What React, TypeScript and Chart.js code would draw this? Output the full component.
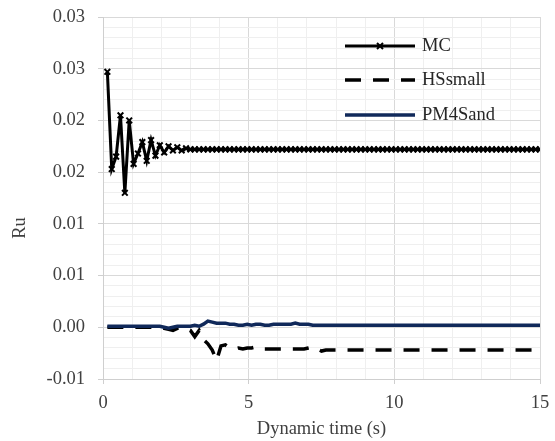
import React, { useEffect, useRef } from 'react';
import { Chart, registerables } from 'chart.js';

Chart.register(...registerables);

// ---- data ----
const times = [
  0.15, 0.3, 0.45, 0.6, 0.75, 0.9, 1.05, 1.2, 1.35, 1.5,
  1.65, 1.8, 1.95, 2.1, 2.25, 2.4, 2.55, 2.7, 2.85, 3.0,
  3.15, 3.3, 3.45, 3.6, 3.75, 3.9, 4.05, 4.2, 4.35, 4.5,
  4.65, 4.8, 4.95, 5.1, 5.25, 5.4, 5.55, 5.7, 5.85, 6.0,
  6.15, 6.3, 6.45, 6.6, 6.75, 6.9, 7.05, 7.2, 7.35, 7.5,
  7.65, 7.8, 7.95, 8.1, 8.25, 8.4, 8.55, 8.7, 8.85, 9.0,
  9.15, 9.3, 9.45, 9.6, 9.75, 9.9, 10.05, 10.2, 10.35, 10.5,
  10.65, 10.8, 10.95, 11.1, 11.25, 11.4, 11.55, 11.7, 11.85, 12.0,
  12.15, 12.3, 12.45, 12.6, 12.75, 12.9, 13.05, 13.2, 13.35, 13.5,
  13.65, 13.8, 13.95, 14.1, 14.25, 14.4, 14.55, 14.7, 14.85, 15.0,
];

const mcValues = [
  0.0247, 0.0153, 0.0165, 0.0205, 0.0130, 0.0200, 0.0158, 0.0168, 0.0179, 0.0161,
  0.0181, 0.0166, 0.0176, 0.0169, 0.0175, 0.0171, 0.0174, 0.0171, 0.0173, 0.0172,
  0.0172, 0.0172, 0.0172, 0.0172, 0.0172, 0.0172, 0.0172, 0.0172, 0.0172, 0.0172,
  0.0172, 0.0172, 0.0172, 0.0172, 0.0172, 0.0172, 0.0172, 0.0172, 0.0172, 0.0172,
  0.0172, 0.0172, 0.0172, 0.0172, 0.0172, 0.0172, 0.0172, 0.0172, 0.0172, 0.0172,
  0.0172, 0.0172, 0.0172, 0.0172, 0.0172, 0.0172, 0.0172, 0.0172, 0.0172, 0.0172,
  0.0172, 0.0172, 0.0172, 0.0172, 0.0172, 0.0172, 0.0172, 0.0172, 0.0172, 0.0172,
  0.0172, 0.0172, 0.0172, 0.0172, 0.0172, 0.0172, 0.0172, 0.0172, 0.0172, 0.0172,
  0.0172, 0.0172, 0.0172, 0.0172, 0.0172, 0.0172, 0.0172, 0.0172, 0.0172, 0.0172,
  0.0172, 0.0172, 0.0172, 0.0172, 0.0172, 0.0172, 0.0172, 0.0172, 0.0172, 0.0172,
];

const hsSmallValues = [
  0.0, 0.0, 0.0, 0.0, 0.0, 0.0, 0.0, 0.0, 0.0, 0.0,
  0.0, 0.0, 0.0, -0.0001, -0.0002, -0.0003, -0.0001, 0.0, -0.0001, -0.0003,
  -0.0009, -0.0003, -0.0012, -0.0016, -0.0022, -0.0032, -0.0018, -0.0017, -0.002, -0.0021,
  -0.002, -0.0021, -0.002, -0.002, -0.0019, -0.0021, -0.0021, -0.0021, -0.0021, -0.0021,
  -0.0021, -0.0021, -0.0021, -0.0021, -0.0021, -0.0021, -0.002, -0.0019, -0.0021, -0.0023,
  -0.0022, -0.0022, -0.0022, -0.0022, -0.0022, -0.0022, -0.0022, -0.0022, -0.0022, -0.0022,
  -0.0022, -0.0022, -0.0022, -0.0022, -0.0022, -0.0022, -0.0022, -0.0022, -0.0022, -0.0022,
  -0.0022, -0.0022, -0.0022, -0.0022, -0.0022, -0.0022, -0.0022, -0.0022, -0.0022, -0.0022,
  -0.0022, -0.0022, -0.0022, -0.0022, -0.0022, -0.0022, -0.0022, -0.0022, -0.0022, -0.0022,
  -0.0022, -0.0022, -0.0022, -0.0022, -0.0022, -0.0022, -0.0022, -0.0022, -0.0022, -0.0022,
];

const pm4SandValues = [
  0.0001, 0.0001, 0.0001, 0.0001, 0.0001, 0.0001, 0.0001, 0.0001, 0.0001, 0.0001,
  0.0001, 0.0001, 0.0001, 0.0, -0.0001, 0.0, 0.0001, 0.0001, 0.0001, 0.0001,
  0.0002, 0.0001, 0.0003, 0.0006, 0.0005, 0.0004, 0.0004, 0.0004, 0.0003, 0.0003,
  0.0002, 0.0002, 0.0003, 0.0002, 0.0003, 0.0003, 0.0002, 0.0002, 0.0003, 0.0003,
  0.0003, 0.0003, 0.0003, 0.0004, 0.0003, 0.0003, 0.0003, 0.0002, 0.0002, 0.0002,
  0.0002, 0.0002, 0.0002, 0.0002, 0.0002, 0.0002, 0.0002, 0.0002, 0.0002, 0.0002,
  0.0002, 0.0002, 0.0002, 0.0002, 0.0002, 0.0002, 0.0002, 0.0002, 0.0002, 0.0002,
  0.0002, 0.0002, 0.0002, 0.0002, 0.0002, 0.0002, 0.0002, 0.0002, 0.0002, 0.0002,
  0.0002, 0.0002, 0.0002, 0.0002, 0.0002, 0.0002, 0.0002, 0.0002, 0.0002, 0.0002,
  0.0002, 0.0002, 0.0002, 0.0002, 0.0002, 0.0002, 0.0002, 0.0002, 0.0002, 0.0002,
];

const seriesNames = ['MC', 'HSsmall', 'PM4Sand'];
const yTickLabels = ['-0.01', '0.00', '0.01', '0.01', '0.02', '0.02', '0.03', '0.03'];
const xTickLabels = ['0', '5', '10', '15'];
const xTitle = 'Dynamic time (s)';
const yTitle = 'Ru';

// ---- styling ----
const FONT_FAMILY = "'Liberation Serif', 'Times New Roman', serif";
const FONT_SIZE = 18.5;
const TEXT_COLOR = '#404040';
const MAJOR_GRID = '#d9d9d9';
const MINOR_GRID = '#efefef';
const AXIS_COLOR = '#cfcfcf';

const toPoints = (vals: number[]) => vals.map((v, i) => ({ x: times[i], y: v }));

const legendPlugin = {
  id: 'insideLegend',
  afterDraw(chart: any) {
    const { ctx, chartArea } = chart;
    const lineStart = chartArea.left + 242;
    const lineLen = 70;
    const rows = [29, 63, 98];
    ctx.save();
    ctx.font = `${FONT_SIZE}px ${FONT_FAMILY}`;
    ctx.textBaseline = 'middle';
    ctx.textAlign = 'left';
    seriesNames.forEach((name, i) => {
      const ds = chart.data.datasets.find((d: any) => d.label === name);
      if (!ds) return;
      const y = chartArea.top + rows[i];
      ctx.save();
      ctx.strokeStyle = ds.borderColor;
      ctx.lineWidth = ds.borderWidth;
      ctx.setLineDash(ds.borderDash || []);
      ctx.beginPath();
      ctx.moveTo(lineStart, y);
      ctx.lineTo(lineStart + lineLen, y);
      ctx.stroke();
      ctx.setLineDash([]);
      if (ds.pointStyle === 'crossRot') {
        const cx = lineStart + lineLen / 2;
        const r = 3;
        ctx.lineWidth = 2;
        ctx.beginPath();
        ctx.moveTo(cx - r, y - r);
        ctx.lineTo(cx + r, y + r);
        ctx.moveTo(cx - r, y + r);
        ctx.lineTo(cx + r, y - r);
        ctx.stroke();
      }
      ctx.restore();
      ctx.fillStyle = '#262626';
      ctx.fillText(name, lineStart + lineLen + 7, y);
    });
    // rotated y-axis title
    ctx.translate(20, 228);
    ctx.rotate(-Math.PI / 2);
    ctx.textAlign = 'center';
    ctx.fillStyle = TEXT_COLOR;
    ctx.fillText(yTitle, 0, 0);
    ctx.restore();
  },
};

export default function App() {
  const canvasRef = useRef<HTMLCanvasElement | null>(null);

  useEffect(() => {
    const canvas = canvasRef.current;
    if (!canvas) return;
    const isMajorY = (v: number) => Math.round(v * 1000) % 5 === 0;
    const isMajorX = (v: number) => Math.round(v) % 5 === 0;

    const chart = new Chart(canvas, {
      type: 'line',
      data: {
        datasets: [
          {
            label: seriesNames[2],
            data: toPoints(pm4SandValues),
            borderColor: '#10295a',
            borderWidth: 3.5,
            pointRadius: 0,
            tension: 0,
          },
          {
            label: seriesNames[1],
            data: toPoints(hsSmallValues),
            borderColor: '#000000',
            borderWidth: 3.5,
            borderDash: [16, 12],
            pointRadius: 0,
            tension: 0,
          },
          {
            label: seriesNames[0],
            data: toPoints(mcValues),
            borderColor: '#000000',
            backgroundColor: '#000000',
            borderWidth: 3,
            pointStyle: 'crossRot',
            pointRadius: 4,
            pointBorderWidth: 2,
            pointBorderColor: '#000000',
            tension: 0,
          },
        ],
      } as any,
      options: {
        animation: false,
        responsive: false,
        maintainAspectRatio: false,
        layout: { padding: { top: 17, right: 15, left: 0, bottom: 0 } },
        plugins: {
          legend: { display: false },
          tooltip: { enabled: false },
        },
        scales: {
          x: {
            type: 'linear',
            min: 0,
            max: 15,
            afterFit: (scale: any) => {
              scale.height = 62;
              scale.paddingLeft = 0;
              scale.paddingRight = 0;
            },
            ticks: {
              stepSize: 1,
              autoSkip: false,
              maxRotation: 0,
              padding: 8,
              color: TEXT_COLOR,
              font: { family: FONT_FAMILY, size: FONT_SIZE },
              callback: (value: any) => {
                const n = Math.round(Number(value));
                return n % 5 === 0 ? xTickLabels[n / 5] : '';
              },
            },
            grid: {
              color: (ctx: any) => (ctx.tick && isMajorX(ctx.tick.value) ? MAJOR_GRID : MINOR_GRID),
              tickColor: (ctx: any) => (ctx.tick && isMajorX(ctx.tick.value) ? AXIS_COLOR : 'rgba(0,0,0,0)'),
              tickLength: 5,
              lineWidth: 1,
            },
            border: { display: true, color: AXIS_COLOR, width: 1 },
            title: {
              display: true,
              text: xTitle,
              color: TEXT_COLOR,
              font: { family: FONT_FAMILY, size: FONT_SIZE },
              padding: { top: 0, bottom: 1 },
            },
          },
          y: {
            type: 'linear',
            min: -0.005,
            max: 0.03,
            afterFit: (scale: any) => {
              scale.width = 103;
              scale.paddingTop = 0;
              scale.paddingBottom = 0;
            },
            ticks: {
              stepSize: 0.001,
              autoSkip: false,
              padding: 13,
              color: TEXT_COLOR,
              font: { family: FONT_FAMILY, size: FONT_SIZE },
              callback: (value: any) => {
                const n = Math.round(Number(value) * 1000);
                return n % 5 === 0 ? yTickLabels[(n + 5) / 5] : '';
              },
            },
            grid: {
              color: (ctx: any) => (ctx.tick && isMajorY(ctx.tick.value) ? MAJOR_GRID : MINOR_GRID),
              tickColor: (ctx: any) => (ctx.tick && isMajorY(ctx.tick.value) ? AXIS_COLOR : 'rgba(0,0,0,0)'),
              tickLength: 5,
              lineWidth: 1,
            },
            border: { display: true, color: AXIS_COLOR, width: 1 },
            title: { display: false },
          },
        },
      } as any,
      plugins: [legendPlugin],
    });

    return () => {
      chart.destroy();
    };
  }, []);

  return (
    <div style={{ position: 'absolute', left: 0, top: 0, width: 555, height: 441, background: '#ffffff' }}>
      <canvas ref={canvasRef} width={555} height={441} style={{ display: 'block' }} />
    </div>
  );
}
